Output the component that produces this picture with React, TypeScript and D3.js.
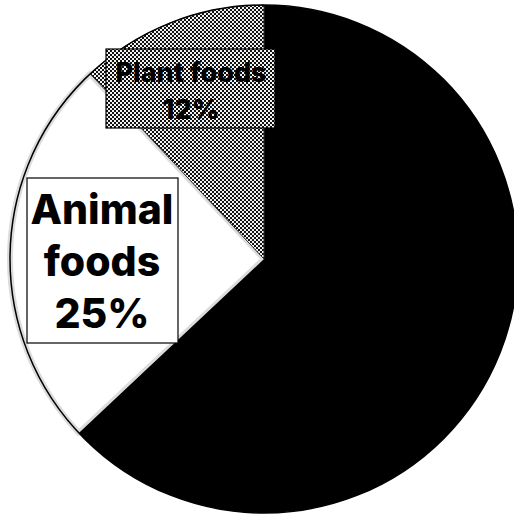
import React from "react";
import * as d3 from "d3";

const categories = ["Other", "Animal foods", "Plant foods"];
const values = [63, 25, 12];
const fills = ["#000000", "#ffffff", "url(#checker)"];

const W = 514;
const H = 514;
const cx = 264;
const cy = 259;
const R = 254;

export default function App() {
  const pie = d3.pie<number>().sort(null).value((d) => d)(values);
  const arc = d3.arc<d3.PieArcDatum<number>>().innerRadius(0).outerRadius(R);
  const order = [1, 0, 2];
  const font = "Inter, 'Liberation Sans', Arial, sans-serif";
  return (
    <svg
      width={W}
      height={H}
      style={{ position: "absolute", left: 0, top: 0, background: "#fff" }}
    >
      <defs>
        <pattern id="checker" width={4} height={4} patternUnits="userSpaceOnUse">
          <rect x={0} y={0} width={4} height={4} fill="#f2f2f2" />
          <rect x={0} y={0} width={2} height={2} fill="#111" />
          <rect x={2} y={2} width={2} height={2} fill="#111" />
        </pattern>
      </defs>
      <g transform={`translate(${cx},${cy})`}>
        {order.map((i) => (
          <path
            key={categories[i]}
            d={arc(pie[i]) || ""}
            fill={fills[i]}
            stroke={i === 1 ? "#dcdcdc" : i === 2 ? "#333" : "none"}
            strokeWidth={i === 1 ? 6 : 1}
            strokeLinejoin="round"
          />
        ))}
        <circle r={R} fill="none" stroke="#000" strokeWidth={1.5} />
      </g>
      <g>
        <rect x={106} y={49} width={169} height={79} fill="url(#checker)" stroke="#000" strokeWidth={1.2} />
        <text
          x={191}
          y={82}
          textAnchor="middle"
          fontFamily={font}
          fontWeight={800}
          fontSize={27}
          fill="#000"
        >
          {categories[2]}
        </text>
        <text
          x={191}
          y={119}
          textAnchor="middle"
          fontFamily={font}
          fontWeight={800}
          fontSize={27}
          fill="#000"
        >
          {values[2]}%
        </text>
      </g>
      <g>
        <rect x={27} y={178} width={151} height={165} fill="#fff" stroke="#000" strokeWidth={1.2} />
        {["Animal", "foods", `${values[1]}%`].map((t, k) => (
          <text
            key={k}
            x={102}
            y={224 + k * 52}
            textAnchor="middle"
            fontFamily={font}
            fontWeight={800}
            fontSize={41}
            fill="#000"
          >
            {t}
          </text>
        ))}
      </g>
    </svg>
  );
}
